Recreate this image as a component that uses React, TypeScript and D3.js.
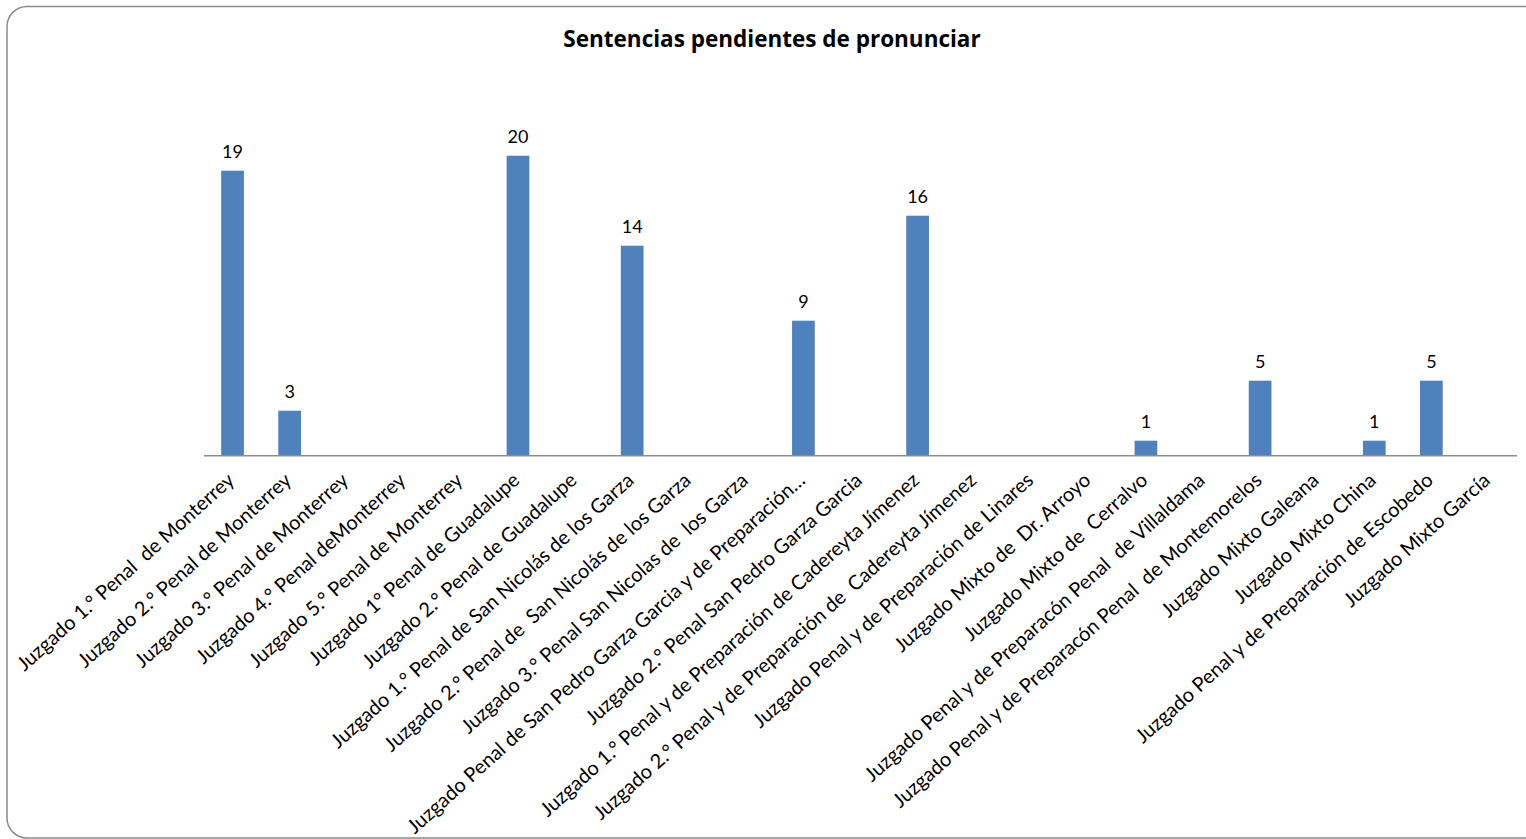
import React from "react";
import * as d3 from "d3";

const categories: string[] = [
  "Juzgado 1.° Penal  de Monterrey",
  "Juzgado 2.° Penal de Monterrey",
  "Juzgado 3.° Penal de Monterrey",
  "Juzgado 4.° Penal deMonterrey",
  "Juzgado 5.° Penal de Monterrey",
  "Juzgado 1° Penal de Guadalupe",
  "Juzgado 2.° Penal de Guadalupe",
  "Juzgado 1.° Penal de San Nicolás de los Garza",
  "Juzgado 2.° Penal de  San Nicolás de los Garza",
  "Juzgado 3.° Penal San Nicolas de  los Garza",
  "Juzgado Penal de San Pedro Garza Garcia y de Preparación…",
  "Juzgado 2.° Penal San Pedro Garza Garcia",
  "Juzgado 1.° Penal y de Preparación de Cadereyta Jímenez",
  "Juzgado 2.° Penal y de Preparación de  Cadereyta Jímenez",
  "Juzgado Penal y de Preparación de Linares",
  "Juzgado Mixto de  Dr. Arroyo",
  "Juzgado Mixto de  Cerralvo",
  "Juzgado Penal y de Preparacón Penal  de Villaldama",
  "Juzgado Penal y de Preparacón Penal  de Montemorelos",
  "Juzgado Mixto Galeana",
  "Juzgado Mixto China",
  "Juzgado Penal y de Preparación de Escobedo",
  "Juzgado Mixto García",
];

const values: (number | null)[] = [
  19, 3, null, null, null, 20, null, 14, null, null, 9, null, 16, null, null, null, 1, null, 5, null, 1, 5, null,
];

const title = "Sentencias pendientes de pronunciar";

const W = 1526;
const H = 839;
const plotLeft = 204;
const plotRight = 1517;
const baseY = 455.7;
const plotTop = 155.7;
const yMax = 20;

export default function App() {
  const band = d3.scaleBand<string>().domain(categories).range([plotLeft, plotRight]);
  const y = d3.scaleLinear().domain([0, yMax]).range([baseY, plotTop]);
  const font = "Lato, 'Open Sans', 'Liberation Sans', sans-serif";
  const barW = 22.7;

  return (
    <svg
      width={W}
      height={H}
      style={{ position: "absolute", left: 0, top: 0, background: "#fff", whiteSpace: "pre" }}
      fontFamily={font}
    >
      <rect x={7} y={6.5} width={1560} height={831.5} rx={20} ry={20} fill="#fff" stroke="#8a8a8a" strokeWidth={1.5} />
      <text x={772} y={47} textAnchor="middle" fontSize={22.5} fontWeight="bold" fill="#000" fontFamily="'Open Sans', sans-serif">
        {title}
      </text>
      {categories.map((c, i) => {
        const v = values[i];
        const cx = (band(c) as number) + band.bandwidth() / 2;
        if (v == null) return null;
        return (
          <g key={"b" + i}>
            <rect x={cx - barW / 2} y={y(v)} width={barW} height={baseY - y(v)} fill="#4F81BD" />
            <text x={cx} y={y(v) - 13} textAnchor="middle" fontSize={18} fill="#000">
              {v}
            </text>
          </g>
        );
      })}
      <line x1={plotLeft} x2={plotRight} y1={baseY} y2={baseY} stroke="#8c8c8c" strokeWidth={1.5} />
      {categories.map((c, i) => {
        const cx = (band(c) as number) + band.bandwidth() / 2;
        const ax = cx + 3;
        const ay = 482;
        return (
          <text
            key={"l" + i}
            x={ax}
            y={ay}
            textAnchor="end"
            fontSize={20}
            fill="#000"
            style={{ whiteSpace: "pre" }}
            transform={`rotate(-42 ${ax} ${ay})`}
          >
            {c}
          </text>
        );
      })}
    </svg>
  );
}
